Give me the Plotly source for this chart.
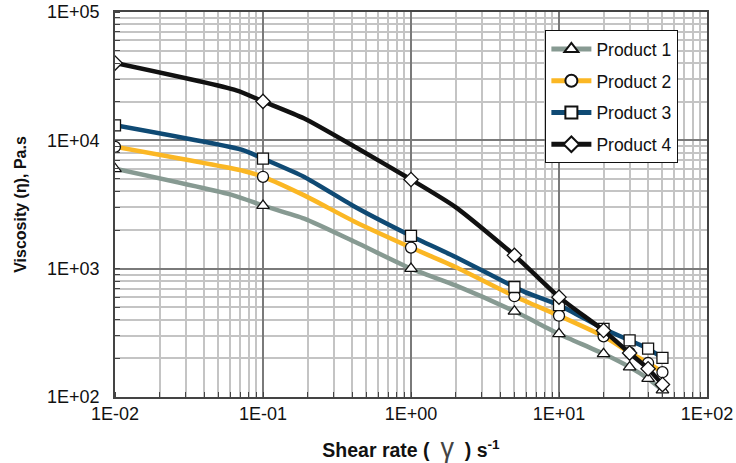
import plotly.graph_objects as go

# ---- data ----
names = ["Product 1", "Product 2", "Product 3", "Product 4"]
marker_x = [0.01, 0.1, 1, 5, 10, 20, 30, 40, 50]

p1_y = [6000, 3100, 1000, 465, 310, 217, 171, 139, 113]
p2_y = [8900, 5200, 1460, 610, 430, 297, 222, 184, 156]
p3_y = [13100, 7200, 1800, 720, 520, 340, 276, 238, 202]
p4_y = [40000, 20100, 4950, 1270, 600, 330, 220, 166, 125]

# extra points along each curve (no marker drawn there)
p1_extra_x = [0.063, 0.19, 0.42, 2]
p1_extra_y = [3725, 2455, 1612, 741]
p2_extra_x = [0.074, 0.19, 0.42, 2]
p2_extra_y = [5770, 3725, 2310, 1030]
p3_extra_x = [0.074, 0.19, 0.42, 2, 5.9]
p3_extra_y = [8360, 5180, 3020, 1232, 657]
p4_extra_x = [0.066, 0.19, 0.42, 2]
p4_extra_y = [24500, 14800, 8870, 3020]

x_tickvals = [0.01, 0.1, 1, 10, 100]
x_ticktext = ["1E-02", "1E-01", "1E+00", "1E+01", "1E+02"]
y_tickvals = [100, 1000, 10000, 100000]
y_ticktext = ["1E+02", "1E+03", "1E+04", "1E+05"]

colors = ["#879a92", "#fbb724", "#0f4a74", "#111111"]
symbols = ["triangle-up", "circle", "square", "diamond"]

series = [
    (p1_y, p1_extra_x, p1_extra_y),
    (p2_y, p2_extra_x, p2_extra_y),
    (p3_y, p3_extra_x, p3_extra_y),
    (p4_y, p4_extra_x, p4_extra_y),
]

FONT = "Liberation Sans, Arial, Helvetica, sans-serif"

fig = go.Figure()
for i, (ys, ex, ey) in enumerate(series):
    pts = [(x, y, True) for x, y in zip(marker_x, ys)] + [(x, y, False) for x, y in zip(ex, ey)]
    pts.sort(key=lambda p: p[0])
    xs = [p[0] for p in pts]
    yv = [p[1] for p in pts]
    sizes = [11 if p[2] else 0 for p in pts]
    lw = [1.3 if p[2] else 0 for p in pts]
    fig.add_trace(go.Scatter(
        x=xs, y=yv, name=names[i], mode="lines+markers",
        legendgroup=names[i],
        line=dict(color=colors[i], width=4.5, shape="spline", smoothing=0.6),
        marker=dict(symbol=symbols[i], size=sizes, color="#ffffff", opacity=1,
                    line=dict(color="#111111", width=lw)),
    ))

fig.update_layout(
    width=736, height=463,
    margin=dict(l=115, r=29, t=12, b=66, autoexpand=False),
    paper_bgcolor="white", plot_bgcolor="white",
    font=dict(family=FONT, size=16, color="#111111"),
    showlegend=True,
    legend=dict(
        x=0.727, y=0.953, xanchor="left", yanchor="top",
        bgcolor="white", bordercolor="#111111", borderwidth=1,
        font=dict(size=17.5, family=FONT, color="#111111"),
        itemsizing="constant", itemwidth=40,
        traceorder="grouped", tracegroupgap=6,
    ),
)

x_title = ("<b>Shear rate (\u00a0\u00a0</b><span style='font-size:27px;color:#444'>\u03b3</span>"
           "<b>\u00a0\u00a0) s<sup>-1</sup></b>")

fig.update_xaxes(
    type="log", range=[-2, 2], automargin=False,
    tickvals=x_tickvals, ticktext=x_ticktext,
    tickfont=dict(size=18), ticks="",
    showgrid=True, gridcolor="#7a7a7a", gridwidth=1.5,
    showline=True, linecolor="#444444", linewidth=1.5, mirror=True,
    minor=dict(dtick="D1", showgrid=True, gridcolor="#c4c4c4", gridwidth=1.5,
               ticks="inside", ticklen=5, tickcolor="#444444"),
    title=dict(text=x_title, font=dict(size=19.5), standoff=25),
    zeroline=False,
)
fig.update_yaxes(
    type="log", range=[2, 5], automargin=False,
    tickvals=y_tickvals, ticktext=y_ticktext,
    tickfont=dict(size=18), ticks="", ticklabelstandoff=10,
    showgrid=True, gridcolor="#7a7a7a", gridwidth=1.5,
    showline=True, linecolor="#444444", linewidth=1.5, mirror=True,
    minor=dict(dtick="D1", showgrid=True, gridcolor="#c4c4c4", gridwidth=1.5,
               ticks="inside", ticklen=5, tickcolor="#444444"),
    title=dict(text="<b>Viscosity (η), Pa.s</b>", font=dict(size=16), standoff=16),
    zeroline=False,
)

fig.write_html("out.html", config={"displayModeBar": False},
               post_script="document.body.style.margin='0';document.body.style.overflow='hidden';")
